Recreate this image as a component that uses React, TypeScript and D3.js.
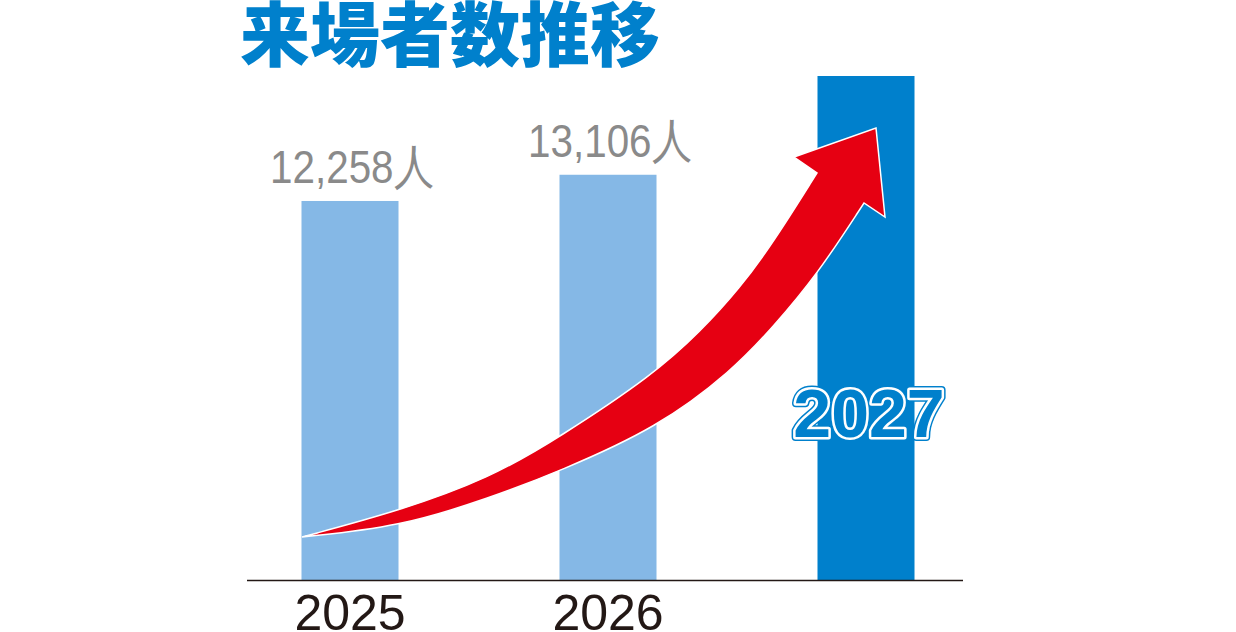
import { useEffect, useRef } from 'react';
import * as d3 from 'd3';

const years = ['2025', '2026', '2027'];
const visitors = [12258, 13106, 16300];
const valueLabels = ['12,258人', '13,106人', ''];
const title = '来場者数推移';

// decorative arrow outline (pixel space)
const arrowUpper: [number, number][] = [
  [302, 537], [399, 511], [490, 478], [560, 437], [653, 375],
  [700, 332], [740, 288], [773, 243], [817, 173],
];
const arrowHead: [number, number][] = [[794, 157], [876, 128], [885, 217], [864, 203]];
const arrowLower: [number, number][] = [
  [864, 203], [817, 275], [773, 327], [733, 370], [657, 428],
  [560, 471], [490, 498], [399, 527], [302, 537],
];

const App = () => {
  const svgRef = useRef(null);

  useEffect(() => {
    if (!svgRef.current) return;
    const width = 1236;
    const height = 632;
    const baseY = 580;
    const blue = '#0080cc';

    const svg = d3.select(svgRef.current).attr('width', width).attr('height', height);
    svg.selectAll('*').remove();

    const x = d3.scaleBand().domain(years).range([221, 995]).paddingInner(0.624).paddingOuter(0.312);
    const y = d3.scaleLinear().domain([0, 16300]).range([baseY, 76]);

    svg
      .append('text')
      .attr('x', 240)
      .attr('y', 61)
      .attr('font-family', '"Noto Sans CJK JP", sans-serif')
      .attr('font-weight', 900)
      .attr('font-size', 70)
      .attr('fill', blue)
      .text(title);

    svg
      .selectAll('rect.bar')
      .data(visitors)
      .join('rect')
      .attr('class', 'bar')
      .attr('x', (_, i) => x(years[i])!)
      .attr('y', (d) => y(d))
      .attr('width', x.bandwidth())
      .attr('height', (d) => baseY - y(d))
      .attr('fill', (_, i) => (i === 2 ? blue : '#85b8e6'));

    svg
      .append('line')
      .attr('x1', 247)
      .attr('x2', 963)
      .attr('y1', baseY + 0.5)
      .attr('y2', baseY + 0.5)
      .attr('stroke', '#231815')
      .attr('stroke-width', 1.3);

    svg
      .selectAll('text.val')
      .data(visitors.slice(0, 2))
      .join('text')
      .attr('class', 'val')
      .attr('x', (_, i) => x(years[i])! + x.bandwidth() / 2 + 2)
      .attr('y', (d) => y(d) - 18)
      .attr('text-anchor', 'middle')
      .attr('font-family', '"Liberation Sans", Arial, sans-serif')
      .attr('font-size', 47)
      .attr('fill', '#8a8a8a')
      .attr('textLength', 164)
      .attr('lengthAdjust', 'spacingAndGlyphs')
      .text((_, i) => valueLabels[i]);

    svg
      .selectAll('text.year')
      .data(years.slice(0, 2))
      .join('text')
      .attr('class', 'year')
      .attr('x', (d) => x(d)! + x.bandwidth() / 2)
      .attr('y', 630)
      .attr('text-anchor', 'middle')
      .attr('font-family', '"Liberation Sans", Arial, sans-serif')
      .attr('font-size', 50)
      .attr('fill', '#231815')
      .text((d) => d);

    // arrow
    const curve = d3.line().curve(d3.curveBasis);
    const up = curve(arrowUpper)!;
    const low = curve(arrowLower)!.replace(/^M/, 'L');
    const head = arrowHead.map((p) => `L${p[0]},${p[1]}`).join('');
    svg
      .append('path')
      .attr('d', up + head + low + 'Z')
      .attr('fill', '#e60012')
      .attr('stroke', '#ffffff')
      .attr('stroke-width', 1.5)
      .attr('stroke-linejoin', 'miter');

    // outlined 2027 label
    const lx = x('2027')! + x.bandwidth() / 2 + 3;
    const layers = [
      { stroke: blue, sw: 8 },
      { stroke: '#ffffff', sw: 5 },
      { stroke: 'none', sw: 0 },
    ];
    svg
      .selectAll('text.y27')
      .data(layers)
      .join('text')
      .attr('class', 'y27')
      .attr('x', lx)
      .attr('y', 437)
      .attr('text-anchor', 'middle')
      .attr('font-family', '"Liberation Sans", Arial, sans-serif')
      .attr('font-weight', 'bold')
      .attr('font-size', 68)
      .attr('fill', blue)
      .attr('stroke', (d) => d.stroke)
      .attr('stroke-width', (d) => d.sw)
      .attr('stroke-linejoin', 'round')
      .text(years[2]);
  }, []);

  return (
    <svg
      ref={svgRef}
      style={{ position: 'absolute', left: 0, top: 0, display: 'block', background: '#fff' }}
    ></svg>
  );
};

export default App;
